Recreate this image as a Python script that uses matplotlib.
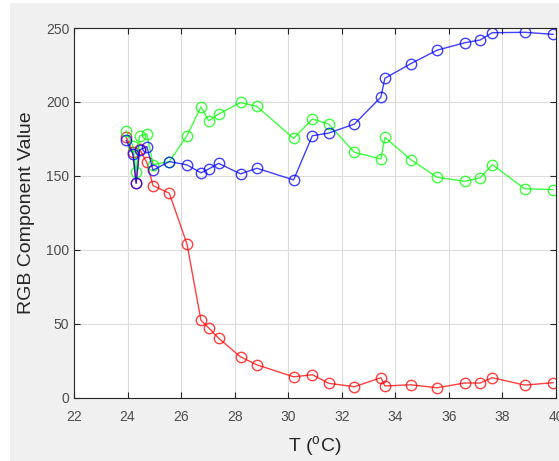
import numpy as np
import matplotlib
matplotlib.use('Agg')
import matplotlib.pyplot as plt
from matplotlib.patches import Rectangle

# temperature (deg C) at each sample
temp = [23.95, 24.2, 24.32, 24.45, 24.72, 24.95, 25.56, 26.22, 26.74, 27.03,
        27.4, 28.22, 28.83, 30.2, 30.9, 31.51, 32.47, 33.46, 33.61, 34.58,
        35.56, 36.59, 37.17, 37.62, 38.83, 39.89]

red = [176, 166, 145, 168, 159, 143.4, 138.2, 103.8, 52.3, 47.1,
       40.1, 27.5, 22.1, 14.0, 15.4, 9.6, 7.3, 13.4, 7.8, 8.6,
       6.6, 9.8, 9.8, 13.4, 8.4, 10.0]

green = [180.5, 170, 152.4, 177, 178.3, 157.6, 159.6, 177.1, 196.7, 187.2,
         191.8, 199.6, 196.9, 175.3, 188.4, 185, 165.9, 161.4, 176, 160.9,
         149, 146.3, 148.6, 157.6, 141.2, 140.7]

blue = [174, 164.5, 145, 167.5, 169.8, 153.8, 159.6, 157.4, 152, 154.6,
        158.4, 151.3, 155.1, 147.2, 177.1, 178.9, 185, 203.2, 216, 225.9,
        235, 240, 241.9, 246.8, 247.1, 245.7]

plt.rcParams['font.family'] = ['Liberation Sans', 'DejaVu Sans']

fig = plt.figure(figsize=(5.59, 4.61), dpi=100, facecolor='white')
fig.patches.append(Rectangle((10 / 559, 0), 1, 1 - 3 / 461, transform=fig.transFigure,
                             facecolor='#f0f0f0', edgecolor='none', zorder=-10))
ax = fig.add_axes([74 / 559, 1 - 397.5 / 461, 482 / 559, 369.5 / 461])

for vals, col in [(red, '#ff0000'), (green, '#00ff00'), (blue, '#0000ff')]:
    ax.plot(temp, vals, '-o', color=col, lw=1, markersize=7.5,
            markerfacecolor='none', markeredgewidth=1, alpha=0.75)

ax.set_xlim(22, 40)
ax.set_ylim(0, 250)
ax.set_xticks(np.arange(22, 41, 2))
ax.set_yticks(np.arange(0, 251, 50))
ax.grid(True, color='#dcdcdc', lw=0.8)
ax.set_axisbelow(True)
ax.tick_params(direction='in', top=True, right=True, length=4, width=0.8,
               labelsize=10, colors='#262626', labelcolor='#4d4d4d')
ax.tick_params(axis='x', pad=9)
for s in ax.spines.values():
    s.set_color('#262626')
    s.set_linewidth(0.8)

ax.set_xlabel(r'T ($\mathregular{^o}$C)', fontsize=14, color='#262626', labelpad=7)
ax.set_ylabel('RGB Component Value', fontsize=14, color='#262626', labelpad=8)

fig.savefig('out.png', dpi=100, facecolor=fig.get_facecolor())
